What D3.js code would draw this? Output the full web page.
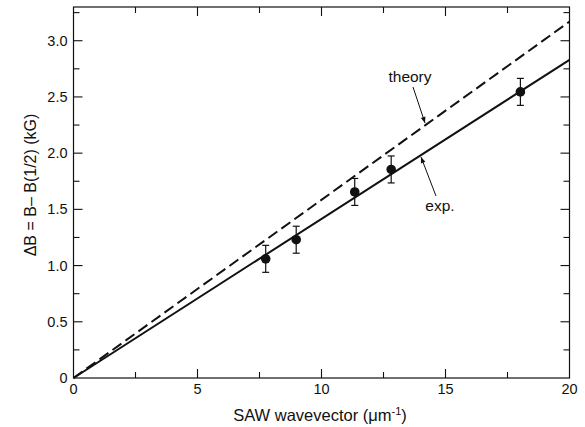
<!DOCTYPE html>
<html>
<head>
<meta charset="utf-8">
<script src="https://cdn.jsdelivr.net/npm/d3@7"></script>
<style>
  body { margin: 0; background: #fff; }
  svg { display: block; font-family: "Liberation Sans", Arial, Helvetica, sans-serif; }
  text { fill: #111; }
</style>
</head>
<body>
<div id="chart"></div>
<script>
// ******* data *******
var waveVector = [7.75, 8.98, 11.34, 12.81, 18.02];
var deltaB = [1.06, 1.23, 1.655, 1.855, 2.545];
var errB = [0.12, 0.12, 0.12, 0.12, 0.12];
var expLine = [[0, 0], [20, 2.83]];
var theoryLine = [[0, 0], [20, 3.17]];
var xTicks = [0, 5, 10, 15, 20];
var yTicks = [0, 0.5, 1.0, 1.5, 2.0, 2.5, 3.0];
var yTickLabels = ["0", "0.5", "1.0", "1.5", "2.0", "2.5", "3.0"];

// ******* set up *******
var w = 585, h = 427;
var pLeft = 73.5, pRight = 569.5, pTop = 7, pBottom = 378;
var x = d3.scaleLinear().domain([0, 20]).range([pLeft, pRight]);
var y = d3.scaleLinear().domain([0, 3.3]).range([pBottom, pTop]);
var svg = d3.select("#chart").append("svg").attr("width", w).attr("height", h);

var ink = "#111";
var xMinor = d3.range(0, 20.01, 2.5).filter(v => v % 5 !== 0);
var yMinor = d3.range(0, 3.31, 0.25).filter(v => Math.abs(v * 2 - Math.round(v * 2)) > 0.01);

// ******* frame *******
svg.append("rect")
  .attr("x", pLeft).attr("y", pTop)
  .attr("width", pRight - pLeft).attr("height", pBottom - pTop)
  .attr("fill", "none").attr("stroke", ink).attr("stroke-width", 1.2);

// ******* ticks (inward, all four sides) *******
var major = 9, minor = 6;
function xTick(v, len) {
  svg.append("line").attr("x1", x(v)).attr("x2", x(v)).attr("y1", pBottom).attr("y2", pBottom - len)
    .attr("stroke", ink).attr("stroke-width", 1.1);
  svg.append("line").attr("x1", x(v)).attr("x2", x(v)).attr("y1", pTop).attr("y2", pTop + len)
    .attr("stroke", ink).attr("stroke-width", 1.1);
}
function yTick(v, len) {
  svg.append("line").attr("x1", pLeft).attr("x2", pLeft + len).attr("y1", y(v)).attr("y2", y(v))
    .attr("stroke", ink).attr("stroke-width", 1.1);
  svg.append("line").attr("x1", pRight).attr("x2", pRight - len).attr("y1", y(v)).attr("y2", y(v))
    .attr("stroke", ink).attr("stroke-width", 1.1);
}
xTicks.slice(1, -1).forEach(v => xTick(v, major));
xMinor.forEach(v => xTick(v, minor));
yTicks.slice(1).forEach(v => yTick(v, major));
yMinor.forEach(v => yTick(v, minor));

// ******* tick labels *******
svg.selectAll(".xlab")
  .data(xTicks)
  .enter().append("text")
  .attr("x", d => x(d))
  .attr("y", pBottom + 16)
  .attr("text-anchor", "middle")
  .style("font-size", "14.5px")
  .text(d => d);

svg.selectAll(".ylab")
  .data(yTicks)
  .enter().append("text")
  .attr("x", pLeft - 6)
  .attr("y", d => y(d) + 5)
  .attr("text-anchor", "end")
  .style("font-size", "14.5px")
  .text((d, i) => yTickLabels[i]);

// ******* axis titles *******
var xt = svg.append("text")
  .attr("x", 320).attr("y", 421)
  .attr("text-anchor", "middle")
  .style("font-size", "16.5px");
xt.append("tspan").text("SAW wavevector (\u03bcm");
xt.append("tspan").attr("dy", -6).style("font-size", "11px").text("-1");
xt.append("tspan").attr("dy", 6).text(")");

svg.append("text")
  .attr("transform", "translate(36,185) rotate(-90)")
  .attr("text-anchor", "middle")
  .style("font-size", "16px")
  .text("\u0394B = B\u2013 B(1/2) (kG)");

// ******* lines *******
var line = d3.line().x(d => x(d[0])).y(d => y(d[1]));

svg.append("path")
  .attr("d", line(theoryLine))
  .attr("fill", "none").attr("stroke", ink).attr("stroke-width", 2)
  .attr("stroke-dasharray", "11,5");

svg.append("path")
  .attr("d", line(expLine))
  .attr("fill", "none").attr("stroke", ink).attr("stroke-width", 2);

// ******* error bars + points *******
var pts = waveVector.map((v, i) => ({ x: v, y: deltaB[i], e: errB[i] }));
var cap = 3.5;
var eb = svg.append("g").attr("stroke", ink).attr("stroke-width", 1.2);
pts.forEach(d => {
  eb.append("line").attr("x1", x(d.x)).attr("x2", x(d.x)).attr("y1", y(d.y - d.e)).attr("y2", y(d.y + d.e));
  eb.append("line").attr("x1", x(d.x) - cap).attr("x2", x(d.x) + cap).attr("y1", y(d.y - d.e)).attr("y2", y(d.y - d.e));
  eb.append("line").attr("x1", x(d.x) - cap).attr("x2", x(d.x) + cap).attr("y1", y(d.y + d.e)).attr("y2", y(d.y + d.e));
});
svg.selectAll(".pt")
  .data(pts)
  .enter().append("circle")
  .attr("cx", d => x(d.x))
  .attr("cy", d => y(d.y))
  .attr("r", 4.8)
  .attr("fill", ink);

// ******* annotations *******
svg.append("defs").append("marker")
  .attr("id", "arr")
  .attr("viewBox", "0 0 10 10")
  .attr("refX", 10).attr("refY", 5)
  .attr("markerWidth", 9).attr("markerHeight", 6)
  .attr("markerUnits", "userSpaceOnUse")
  .attr("orient", "auto")
  .append("path").attr("d", "M0,1 L10,5 L0,9 Z").attr("fill", ink);

svg.append("text")
  .attr("x", 410).attr("y", 82)
  .attr("text-anchor", "middle")
  .style("font-size", "15.5px")
  .text("theory");
svg.append("line")
  .attr("x1", 413).attr("y1", 87).attr("x2", 425).attr("y2", 123)
  .attr("stroke", ink).attr("stroke-width", 1)
  .attr("marker-end", "url(#arr)");

svg.append("text")
  .attr("x", 440).attr("y", 211)
  .attr("text-anchor", "middle")
  .style("font-size", "15.5px")
  .text("exp.");
svg.append("line")
  .attr("x1", 436).attr("y1", 196).attr("x2", 421).attr("y2", 157)
  .attr("stroke", ink).attr("stroke-width", 1)
  .attr("marker-end", "url(#arr)");
</script>
</body>
</html>
